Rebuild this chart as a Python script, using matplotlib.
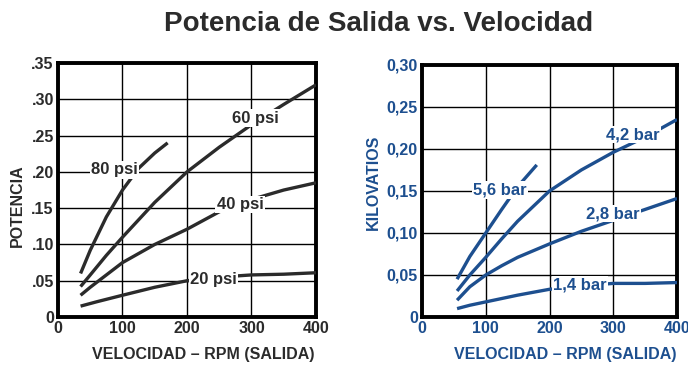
import matplotlib.pyplot as plt
import matplotlib.ticker as mticker

# rpm (output shaft) vs power, imperial panel
rpm_80 = [35, 50, 75, 100, 125, 150, 170]
hp_80 = [0.060, 0.092, 0.138, 0.175, 0.205, 0.226, 0.240]

rpm_60 = [35, 50, 75, 100, 150, 200, 250, 300, 350, 400]
hp_60 = [0.042, 0.058, 0.085, 0.110, 0.158, 0.200, 0.234, 0.265, 0.293, 0.320]

rpm_40 = [35, 50, 75, 100, 150, 200, 250, 300, 350, 400]
hp_40 = [0.030, 0.041, 0.058, 0.075, 0.100, 0.121, 0.145, 0.162, 0.175, 0.185]

rpm_20 = [35, 60, 100, 150, 200, 250, 300, 350, 400]
hp_20 = [0.015, 0.021, 0.030, 0.041, 0.050, 0.055, 0.058, 0.059, 0.061]

# metric panel
rpm_56 = [55, 75, 100, 125, 150, 180]
kw_56 = [0.045, 0.072, 0.100, 0.128, 0.155, 0.181]

rpm_42 = [55, 75, 100, 125, 150, 200, 250, 300, 350, 400]
kw_42 = [0.031, 0.050, 0.071, 0.093, 0.114, 0.150, 0.175, 0.196, 0.214, 0.235]

rpm_28 = [55, 75, 100, 125, 150, 200, 250, 300, 350, 400]
kw_28 = [0.020, 0.036, 0.050, 0.061, 0.071, 0.087, 0.102, 0.115, 0.128, 0.141]

rpm_14 = [55, 75, 100, 150, 200, 250, 300, 350, 400]
kw_14 = [0.010, 0.014, 0.018, 0.026, 0.033, 0.037, 0.040, 0.040, 0.041]

psi_labels = ["80 psi", "60 psi", "40 psi", "20 psi"]
bar_labels = ["5,6 bar", "4,2 bar", "2,8 bar", "1,4 bar"]

DARK = "#2b2b2b"
BLUE = "#1d4f8f"
SANS = ["Liberation Sans", "DejaVu Sans"]

fig = plt.figure(figsize=(6.88, 3.67), dpi=100)
fig.patch.set_facecolor("white")

fig.text(0.55, 0.935, "Potencia de Salida vs. Velocidad",
         ha="center", va="center", fontsize=20, fontweight="bold",
         color=DARK, family=SANS)


def setup_axes(ax, color, ymax, ystep, yfmt, ylabel, ylabel_xy):
    ax.set_xlim(0, 400)
    ax.set_ylim(0, ymax)
    ax.xaxis.set_major_locator(mticker.MultipleLocator(100))
    ax.yaxis.set_major_locator(mticker.MultipleLocator(ystep))
    ax.yaxis.set_major_formatter(mticker.FuncFormatter(yfmt))
    ax.grid(True, color="black", linewidth=1.0)
    ax.set_axisbelow(True)
    for s in ax.spines.values():
        s.set_linewidth(2.8)
        s.set_color("black")
    ax.tick_params(length=0, pad=3, colors=color, labelsize=11.5)
    for lab in ax.get_xticklabels() + ax.get_yticklabels():
        lab.set_family(SANS)
        lab.set_fontweight("bold")
    ax.set_xlabel("VELOCIDAD – RPM (SALIDA)", fontsize=11.5, fontweight="bold",
                  color=color, family=SANS)
    ax.set_ylabel(ylabel, fontsize=11.5, fontweight="bold", color=color,
                  family=SANS)
    ax.xaxis.set_label_coords(0.562, -0.12)
    ax.yaxis.set_label_coords(*ylabel_xy)


def curve_label(ax, x, y, text, color):
    ax.text(x, y, text, ha="center", va="center", fontsize=12,
            fontweight="bold", color=color, family=SANS, zorder=5,
            bbox=dict(facecolor="white", edgecolor="none", pad=1.0))


def fmt_psi(v, pos):
    return "0" if v == 0 else f"{v:.2f}".lstrip("0")


def fmt_kw(v, pos):
    return "0" if v == 0 else f"{v:.2f}".replace(".", ",")


# left panel: horsepower
ax1 = fig.add_axes([0.0843, 0.1362, 0.375, 0.692])
setup_axes(ax1, DARK, 0.35, 0.05, fmt_psi, "POTENCIA", (-0.128, 0.44))
for xs, ys in [(rpm_80, hp_80), (rpm_60, hp_60), (rpm_40, hp_40), (rpm_20, hp_20)]:
    ax1.plot(xs, ys, color=DARK, linewidth=2.4, solid_capstyle="butt",
             solid_joinstyle="round", zorder=3)
for (x, y), t in zip([(88, 0.203), (306, 0.274), (282, 0.155), (241, 0.052)], psi_labels):
    curve_label(ax1, x, y, t, DARK)

# right panel: kilowatts
ax2 = fig.add_axes([0.6134, 0.1362, 0.3706, 0.687])
setup_axes(ax2, BLUE, 0.30, 0.05, fmt_kw, "KILOVATIOS", (-0.161, 0.535))
for xs, ys in [(rpm_56, kw_56), (rpm_42, kw_42), (rpm_28, kw_28), (rpm_14, kw_14)]:
    ax2.plot(xs, ys, color=BLUE, linewidth=2.4, solid_capstyle="butt",
             solid_joinstyle="round", zorder=3)
for (x, y), t in zip([(122, 0.151), (331, 0.217), (300, 0.123), (248, 0.038)], bar_labels):
    curve_label(ax2, x, y, t, BLUE)

plt.savefig("out.png", dpi=100)
plt.close()
